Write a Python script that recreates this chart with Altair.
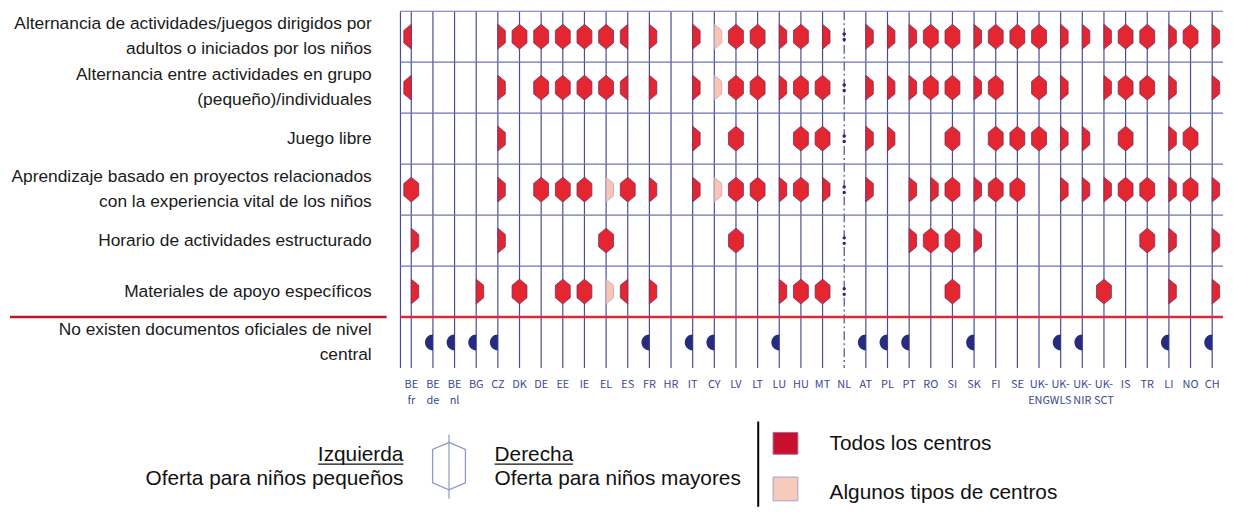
import altair as alt
import pandas as pd

# ---------------- data ----------------
countries = ["BE fr", "BE de", "BE nl", "BG", "CZ", "DK", "DE", "EE", "IE", "EL", "ES", "FR", "HR",
             "IT", "CY", "LV", "LT", "LU", "HU", "MT", "NL", "AT", "PL", "PT", "RO", "SI", "SK", "FI",
             "SE", "UK-ENG", "UK-WLS", "UK-NIR", "UK-SCT", "IS", "TR", "LI", "NO", "CH"]
country_labels = ["BE|fr", "BE|de", "BE|nl", "BG", "CZ", "DK", "DE", "EE", "IE", "EL", "ES", "FR", "HR",
                  "IT", "CY", "LV", "LT", "LU", "HU", "MT", "NL", "AT", "PL", "PT", "RO", "SI", "SK", "FI",
                  "SE", "UK-|ENG", "UK-|WLS", "UK-|NIR", "UK-|SCT", "IS", "TR", "LI", "NO", "CH"]

row_labels = [
    "Alternancia de actividades/juegos dirigidos por|adultos o iniciados por los niños",
    "Alternancia entre actividades en grupo|(pequeño)/individuales",
    "Juego libre",
    "Aprendizaje basado en proyectos relacionados|con la experiencia vital de los niños",
    "Horario de actividades estructurado",
    "Materiales de apoyo específicos",
    "No existen documentos oficiales de nivel|central",
]

# one character per country: F = both ages, R = older children only (right half),
# L = younger children only (left half); lower case = only some types of centres;
# ":" = not available; "." = nothing
row_codes = [
    "L...RFFFFFLR.RrFFRFR:RRRFFRFFFRRRFFRFR",
    "L...R.FFFFLR.RrFFRFF:RRRFFRF.FR.RFFR.R",
    "....R........R.F..FF:RR..F.FFFRR.F.RF.",
    "F...R.FFFrFR.RrFFRFR:R.RRFRFF.RRRFFRFR",
    "R...R....F.....F....:..RFFR.......FR.R",
    "R..R.F.FFrLR.....RFF:....F......F..R.R",
]
no_central_docs = ["BE de", "BE nl", "BG", "CZ", "FR", "IT", "CY", "LU", "AT", "PL", "PT", "SK",
                   "UK-WLS", "UK-NIR", "LI", "CH"]

tones = ["Todos los centros", "Algunos tipos de centros"]
legend_side = ["Izquierda", "Oferta para niños pequeños", "Derecha", "Oferta para niños mayores"]

# ---------------- tables ----------------
part_of = {"F": "full", "R": "right", "L": "left"}
recs, colons = [], []
for r, codes in enumerate(row_codes):
    for c, ch in enumerate(codes):
        if ch.upper() in part_of:
            recs.append({"row": r, "col": c, "part": part_of[ch.upper()],
                         "tone": tones[0] if ch.isupper() else tones[1]})
        elif ch == ":":
            colons.append({"row": r, "col": c})
df = pd.DataFrame(recs)
df_colon = pd.DataFrame(colons)
df_blue = pd.DataFrame({"row": [len(row_labels) - 1] * len(no_central_docs),
                        "col": [countries.index(n) for n in no_central_docs]})
nl_idx = countries.index("NL")
df_cols = pd.DataFrame({"col": [i for i in range(len(countries)) if i != nl_idx]})
df_nl = pd.DataFrame({"col": [nl_idx]})
df_xlab = pd.DataFrame({"col": list(range(len(countries))), "label": country_labels})
df_ylab = pd.DataFrame({"row": list(range(len(row_labels))), "label": row_labels,
                        "lines": [len(t.split("|")) for t in row_labels]})
df_edges = pd.DataFrame({"edge": [r - 0.5 for r in range(len(row_labels) - 1)]})
df_red = pd.DataFrame({"edge": [len(row_labels) - 1.5]})
one = pd.DataFrame({"a": [0]})

# ---------------- style ----------------
W, H = 830, 360
NAVY = "#484c9a"
NAVY_H = "#6f73b2"
DOT = "#262a78"
RED = "#e3262f"
RED_EDGE = "#7d2c5c"
PALE = "#f7c5b3"
PALE_EDGE = "#c9a3b5"
BLUE = "#262d7e"
FONT = "Liberation Sans"
NARROW = "Noto Sans CJK SC"

HEX_FULL = "M0,-1L0.6,-0.5L0.6,0.5L0,1L-0.6,0.5L-0.6,-0.5Z"
HEX_RIGHT = "M0,-1L0.6,-0.5L0.6,0.5L0,1Z"
HEX_LEFT = "M0,-1L-0.6,-0.5L-0.6,0.5L0,1Z"
HALF_DISC = "M0,-1A1,1 0 0 0 0,1Z"
COLON = ("M-0.38,-0.62a0.38,0.38 0 1 0 0.76,0a0.38,0.38 0 1 0 -0.76,0Z"
         "M-0.38,0.62a0.38,0.38 0 1 0 0.76,0a0.38,0.38 0 1 0 -0.76,0Z")
LEG_HEX = "M0,-1L0.69,-0.7L0.69,0.7L0,1L-0.69,0.7L-0.69,-0.7Z"

xs = alt.Scale(domain=[-0.5, len(countries) - 0.5], nice=False, zero=False)
ys = alt.Scale(domain=[-0.5, len(row_labels) - 0.5], nice=False, zero=False, reverse=True)


def X(field):
    return alt.X(field, scale=xs, axis=None)


def Y(field):
    return alt.Y(field, scale=ys, axis=None)


# ---------------- grid ----------------
vlines = alt.Chart(df_cols).mark_rule(color=NAVY, strokeWidth=1.2).encode(
    x=X("col:Q"), y=alt.value(0), y2=alt.value(H))
vline_nl = alt.Chart(df_nl).mark_rule(color=NAVY, strokeWidth=1.2, strokeDash=[9, 3, 2, 3]).encode(
    x=X("col:Q"), y=alt.value(0), y2=alt.value(H))
left_border = alt.Chart(one).mark_rule(color=NAVY, strokeWidth=1.2).encode(
    x=alt.value(0), y=alt.value(0), y2=alt.value(H))
hlines = alt.Chart(df_edges).mark_rule(color=NAVY_H, strokeWidth=1.2).encode(
    y=Y("edge:Q"), x=alt.value(0), x2=alt.value(W))
red_plot = alt.Chart(df_red).mark_rule(color="#dc2a33", strokeWidth=2.5).encode(
    y=Y("edge:Q"), x=alt.value(0), x2=alt.value(W))
red_left = alt.Chart(df_red).mark_rule(color="#c4121f", strokeWidth=2.5).encode(
    y=Y("edge:Q"), x=alt.value(-394), x2=alt.value(-14))

# ---------------- labels (through the scales) ----------------
xlabels = alt.Chart(df_xlab).mark_text(font=NARROW, fontSize=11, color="#3b4890", align="center",
                                       baseline="top", lineBreak="|", lineHeight=16).encode(
    x=X("col:Q"), y=alt.value(H + 11), text="label:N")
ylab_kw = dict(font=FONT, fontSize=17.5, color="#1a1a1a", align="right", baseline="middle",
               lineBreak="|", lineHeight=25)
ylabels1 = alt.Chart(df_ylab).transform_filter("datum.lines == 1").mark_text(**ylab_kw).encode(
    y=Y("row:Q"), x=alt.value(-29), text="label:N")
ylabels2 = alt.Chart(df_ylab).transform_filter("datum.lines == 2").mark_text(dy=-12.5, **ylab_kw).encode(
    y=Y("row:Q"), x=alt.value(-29), text="label:N")

# ---------------- marks ----------------
hexes = alt.Chart(df).mark_point(filled=True, size=625, strokeWidth=0.8, opacity=1).encode(
    x=X("col:Q"),
    y=Y("row:Q"),
    shape=alt.Shape("part:N", scale=alt.Scale(domain=["full", "right", "left"],
                                              range=[HEX_FULL, HEX_RIGHT, HEX_LEFT]), legend=None),
    fill=alt.Fill("tone:N", scale=alt.Scale(domain=tones, range=[RED, PALE]), legend=None),
    stroke=alt.Stroke("tone:N", scale=alt.Scale(domain=tones, range=[RED_EDGE, PALE_EDGE]), legend=None),
)
blue = alt.Chart(df_blue).mark_point(shape=HALF_DISC, filled=True, size=256, color=BLUE, opacity=1).encode(
    x=X("col:Q"), y=Y("row:Q"))
dots = alt.Chart(df_colon).mark_point(shape=COLON, filled=True, size=81, color=DOT, opacity=1).encode(
    x=X("col:Q"), y=Y("row:Q"))

# ---------------- legend ----------------
def ltext(txt, x, y, align):
    return alt.Chart(one).mark_text(font=FONT, fontSize=21, align=align, baseline="alphabetic",
                                    color="#111111").encode(x=alt.value(x), y=alt.value(y),
                                                            text=alt.value(txt))


def lrule(x, x2, y, y2, color, sw):
    return alt.Chart(one).mark_rule(color=color, strokeWidth=sw).encode(
        x=alt.value(x), x2=alt.value(x2), y=alt.value(y), y2=alt.value(y2))


legend = [
    ltext(legend_side[0], 3, 454, "right"),
    lrule(-83, 3, 457, 457, "#111111", 1.2),
    ltext(legend_side[1], 3, 478, "right"),
    lrule(49, 49, 427, 492, "#8d98cc", 1.2),
    alt.Chart(one).mark_point(shape=LEG_HEX, size=2304, filled=False, stroke="#8d98cc",
                              strokeWidth=1.3, opacity=1).encode(x=alt.value(49), y=alt.value(459)),
    ltext(legend_side[2], 95, 454, "left"),
    lrule(95, 174, 457, 457, "#111111", 1.2),
    ltext(legend_side[3], 95, 478, "left"),
    lrule(361, 361, 414, 500, "#000000", 2),
    alt.Chart(one).mark_rect(fill="#c8102e", stroke="#9e6a9c", strokeWidth=1).encode(
        x=alt.value(376), x2=alt.value(401), y=alt.value(425), y2=alt.value(447)),
    alt.Chart(one).mark_rect(fill="#f6cbbb", stroke="#a9a3cb", strokeWidth=1).encode(
        x=alt.value(376), x2=alt.value(401), y=alt.value(470), y2=alt.value(494)),
    ltext(tones[0], 433, 443, "left"),
    ltext(tones[1], 433, 492, "left"),
]

chart = alt.layer(
    vlines, vline_nl, left_border, hlines, red_plot, red_left,
    xlabels, ylabels1, ylabels2, hexes, blue, dots, *legend
).properties(width=W, height=H, padding=0).configure_view(stroke=None)

chart.save("out.html", embed_options={"renderer": "svg", "actions": False})
